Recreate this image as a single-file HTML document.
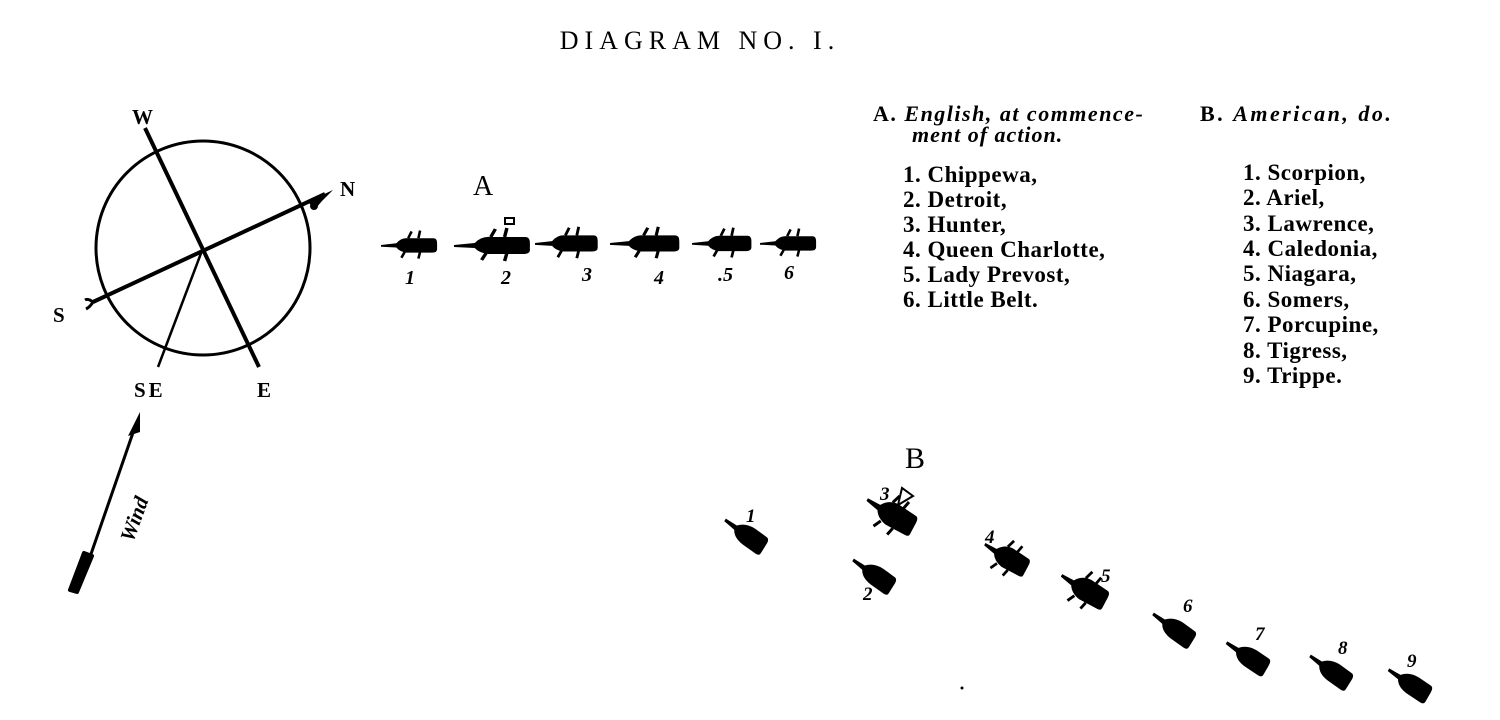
<!DOCTYPE html>
<html><head><meta charset="utf-8"><style>
html,body{margin:0;padding:0;background:#fff;}
svg{display:block;}
text{font-family:"Liberation Serif",serif;fill:#000;}
.b{font-weight:bold;}
</style></head><body>
<svg width="1500" height="720" viewBox="0 0 1500 720" xmlns="http://www.w3.org/2000/svg">
<defs>
<g id="shipA">
 <path d="M-40,0 L-22,-2 Q-16,-9 -8,-8 L22,-8 Q26,-8 26,-2 L26,5 Q26,9 20,9 L-10,9 Q-18,8 -22,3 L-40,2 Z"/>
 <path d="M-8,-8 L-4,-16 M4,-8 L6,-17 M-12,8 L-16,15 M6,8 L4,16" stroke="#000" stroke-width="3"/>
</g>
<g id="shipB">
 <path d="M-28,-3 L-15,-3 Q-9,-10 2,-10 L16,-9 Q20,-9 20,-3 L20,8 Q20,11 16,11 L0,10 Q-11,9 -15,2 L-28,0 Z"/>
</g>
<g id="shipBm">
 <path d="M-30,-3 L-16,-3 Q-10,-12 0,-12 L20,-10 Q24,-10 24,-4 L24,9 Q24,12 20,12 L-2,12 Q-12,10 -16,3 L-30,0 Z"/>
 <path d="M-6,-11 L-3,-20 M6,-10 L8,-19 M-8,11 L-12,19 M6,12 L4,20" stroke="#000" stroke-width="3"/>
</g>
</defs>

<text x="700" y="49" text-anchor="middle" font-size="26" letter-spacing="6">DIAGRAM NO. I.</text>

<!-- compass -->
<circle cx="203" cy="248" r="107" fill="none" stroke="#000" stroke-width="3"/>
<line x1="145" y1="128" x2="259" y2="367" stroke="#000" stroke-width="4"/>
<line x1="93" y1="302" x2="325" y2="194" stroke="#000" stroke-width="4"/>
<line x1="203" y1="248" x2="158" y2="367" stroke="#000" stroke-width="2.5"/>
<path d="M307,202 L333,190 L322,201 L316,208 Z" fill="#000"/>
<circle cx="314" cy="206" r="4" fill="#000"/>
<path d="M93,302 Q88,298 85,300 M93,302 Q90,307 86,309" stroke="#000" stroke-width="3" fill="none"/>
<text x="132" y="124" font-size="21" class="b">W</text>
<text x="340" y="196" font-size="21" class="b">N</text>
<text x="53" y="322" font-size="21" class="b">S</text>
<text x="134" y="397" font-size="21" class="b" letter-spacing="3">SE</text>
<text x="257" y="397" font-size="21" class="b">E</text>

<!-- wind -->
<line x1="82" y1="580" x2="136" y2="424" stroke="#000" stroke-width="3"/>
<path d="M140,412 L128,436 L140,432 Z" fill="#000"/>
<path d="M70,590 L77,592 L92,556 L84,553 Z" fill="#000" stroke="#000" stroke-width="4" stroke-linejoin="round"/>
<text x="0" y="0" font-size="21" font-weight="bold" font-style="italic" transform="translate(133,543) rotate(-70)">Wind</text>

<!-- fleet A -->
<text x="473" y="195" font-size="28">A</text>
<use href="#shipA" transform="translate(415,245) scale(0.85)"/>
<use href="#shipA" transform="translate(500,245) scale(1.15,1)"/>
<rect x="505" y="218" width="9" height="6" fill="none" stroke="#000" stroke-width="2"/>
<use href="#shipA" transform="translate(573,243) scale(0.95)"/>
<use href="#shipA" transform="translate(652,243) scale(1.05,0.95)"/>
<use href="#shipA" transform="translate(728,243) scale(0.9)"/>
<use href="#shipA" transform="translate(794,243) scale(0.85)"/>
<g font-size="20" class="b" font-style="italic">
<text x="405" y="284">1</text>
<text x="501" y="284">2</text>
<text x="582" y="281">3</text>
<text x="654" y="284">4</text>
<text x="718" y="281">.5</text>
<text x="784" y="279">6</text>
</g>

<!-- legend -->
<g font-size="22" font-weight="bold">
<text x="873" y="121" letter-spacing="1.5">A. <tspan font-style="italic">English, at commence-</tspan></text>
<text x="912" y="142" font-style="italic" letter-spacing="1">ment of action.</text>
<text x="1200" y="121" letter-spacing="2.5">B. <tspan font-style="italic">American, do.</tspan></text>
</g>
<g font-size="23" font-weight="bold" letter-spacing="0.5">
<text x="903" y="182">1. Chippewa,</text>
<text x="903" y="207">2. Detroit,</text>
<text x="903" y="232">3. Hunter,</text>
<text x="903" y="257">4. Queen Charlotte,</text>
<text x="903" y="282">5. Lady Prevost,</text>
<text x="903" y="307">6. Little Belt.</text>
<text x="1243" y="180">1. Scorpion,</text>
<text x="1243" y="205">2. Ariel,</text>
<text x="1243" y="231">3. Lawrence,</text>
<text x="1243" y="256">4. Caledonia,</text>
<text x="1243" y="281">5. Niagara,</text>
<text x="1243" y="307">6. Somers,</text>
<text x="1243" y="332">7. Porcupine,</text>
<text x="1243" y="358">8. Tigress,</text>
<text x="1243" y="383">9. Trippe.</text>
</g>

<!-- fleet B -->
<text x="905" y="468" font-size="30">B</text>
<use href="#shipB" transform="translate(748,536) rotate(32)"/>
<use href="#shipB" transform="translate(876,576) rotate(32)"/>
<use href="#shipBm" transform="translate(893,515) rotate(28)"/>
<path d="M898,505 L902,488 L913,496 Z" fill="none" stroke="#000" stroke-width="2"/>
<use href="#shipBm" transform="translate(1008,558) rotate(28) scale(0.9)"/>
<use href="#shipBm" transform="translate(1086,590) rotate(28) scale(0.95)"/>
<use href="#shipB" transform="translate(1176,630) rotate(32)"/>
<use href="#shipB" transform="translate(1250,658) rotate(30)"/>
<use href="#shipB" transform="translate(1333,672) rotate(32)"/>
<use href="#shipB" transform="translate(1412,685) rotate(30)"/>
<g font-size="19" font-weight="bold" font-style="italic">
<text x="746" y="522">1</text>
<text x="863" y="600">2</text>
<text x="880" y="500">3</text>
<text x="985" y="543">4</text>
<text x="1101" y="582">5</text>
<text x="1183" y="612">6</text>
<text x="1255" y="640">7</text>
<text x="1338" y="654">8</text>
<text x="1407" y="667">9</text>
</g>
<circle cx="962" cy="688" r="1.5" fill="#000"/>
</svg>
</body></html>
